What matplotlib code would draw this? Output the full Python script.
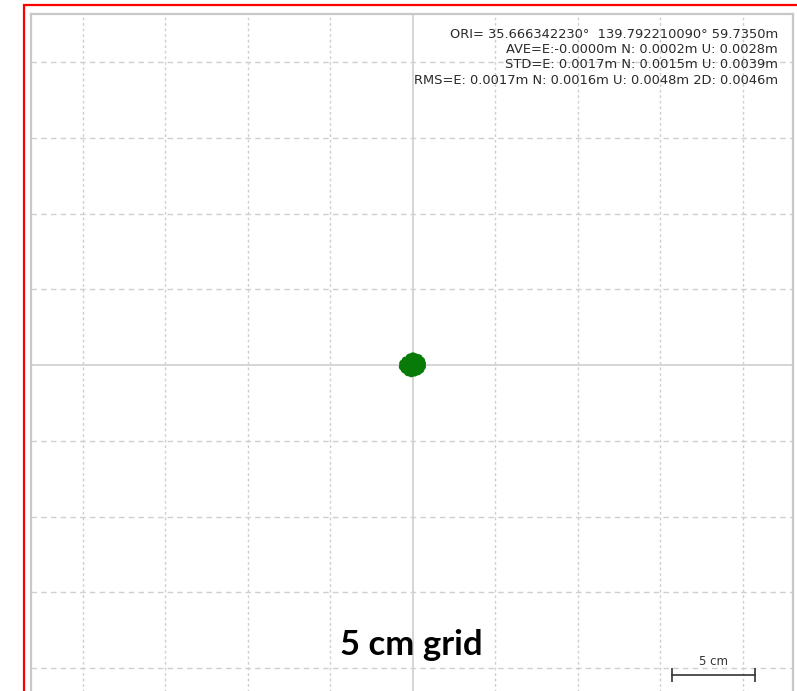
import numpy as np
import matplotlib.pyplot as plt
from matplotlib.patches import Rectangle

# positions of the solution cloud, cm (E, N) relative to ORI
blob_e = [-0.2, 0.0, 0.2, 0.35,
          -0.45, -0.25, -0.05, 0.15, 0.35, 0.5,
          -0.6, -0.4, -0.2, 0.0, 0.2, 0.4, 0.55,
          -0.62, -0.4, -0.2, 0.0, 0.2, 0.4, 0.55,
          -0.5, -0.3, -0.1, 0.1, 0.3, 0.45,
          -0.3, -0.1, 0.1, 0.3]
blob_n = [0.5, 0.58, 0.5, 0.45,
          0.3, 0.3, 0.32, 0.3, 0.3, 0.28,
          0.1, 0.1, 0.1, 0.1, 0.1, 0.1, 0.1,
          -0.12, -0.1, -0.1, -0.1, -0.1, -0.1, -0.1,
          -0.3, -0.3, -0.3, -0.3, -0.3, -0.3,
          -0.48, -0.55, -0.5, -0.42]

grid_step = 5  # cm
grid_vals = [-20, -15, -10, -5, 5, 10, 15, 20]

stats_lines = [
    "ORI= 35.666342230\u00b0  139.792210090\u00b0 59.7350m",
    "AVE=E:-0.0000m N: 0.0002m U: 0.0028m",
    "STD=E: 0.0017m N: 0.0015m U: 0.0039m",
    "RMS=E: 0.0017m N: 0.0016m U: 0.0048m 2D: 0.0046m",
]

W, H = 797, 691
fig = plt.figure(figsize=(W / 100, H / 100), dpi=100)

# axes in pixel terms: left 31, right 793, top 14, bottom 716 (cropped)
ax = fig.add_axes([31 / W, (H - 716.5) / H, 762 / W, 702.5 / H])
ax.set_xlim(-23.15, 23.03)
ax.set_ylim(-23.2, 23.17)
ax.set_xticks([])
ax.set_yticks([])
for s in ax.spines.values():
    s.set_color('#c8c8c8')
    s.set_linewidth(1.6)

gc = '#cfcfcf'
for v in grid_vals:
    ax.axvline(v, color=gc, lw=1.0, ls=(0, (2, 2)), zorder=1)
    ax.axhline(v, color=gc, lw=1.0, ls=(0, (4, 3)), zorder=1)
ax.axvline(0, color='#d2d2d2', lw=1.3, zorder=1)
ax.axhline(0, color='#d2d2d2', lw=1.3, zorder=1)

ax.scatter(blob_e, blob_n, s=32, color='#087a08', edgecolors='none', zorder=3)

# scale bar, one grid step long
x0 = 15.7
yb = -20.46
ax.plot([x0, x0 + grid_step], [yb, yb], color='#333333', lw=1.2, zorder=4)
ax.plot([x0, x0 + grid_step], [yb, yb], ls='none', marker='|', ms=10,
        mew=1.2, color='#333333', zorder=4)
ax.text(x0 + grid_step / 2, yb + 0.45, "%d cm" % grid_step, ha='center',
        va='bottom', fontsize=8.5, color='#333333')

def px(x, y):
    return x / W, 1 - y / H

for i, line in enumerate(stats_lines):
    fig.text(*px(778, 37.5 + i * 15.5), line, ha='right', va='baseline',
             fontsize=9.4, color='#2a2a2a', family='DejaVu Sans')

fig.text(*px(411, 655), "5 cm grid", ha='center', va='baseline',
         fontsize=25, fontweight='bold', family='Lato', color='black')

# red outline (screenshot frame)
fig.add_artist(Rectangle(px(24, 760), 1.2, (760 - 5) / H, transform=fig.transFigure,
                         fill=False, ec='red', lw=1.6))

fig.savefig('out.png', dpi=100)
